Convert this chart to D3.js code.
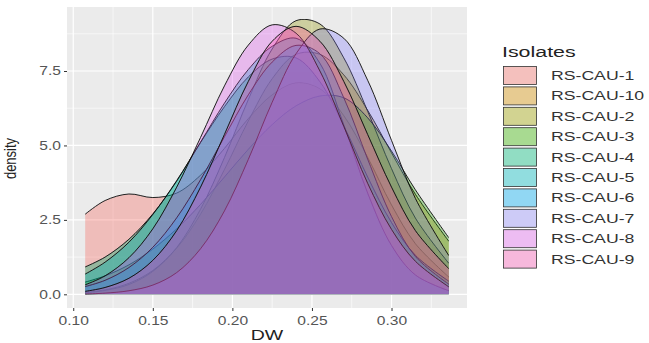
<!DOCTYPE html>
<html>
<head>
<meta charset="utf-8">
<script src="https://cdn.jsdelivr.net/npm/d3@7"></script>
<style>
  html, body { margin: 0; padding: 0; background: #ffffff; }
  svg { display: block; }
  text { font-family: "Liberation Sans", Arial, sans-serif; }
</style>
</head>
<body>
<svg id="chart" width="649" height="343"></svg>
<script>
// ---------- data ----------
const isolates = ["RS-CAU-1", "RS-CAU-10", "RS-CAU-2", "RS-CAU-3", "RS-CAU-4",
                  "RS-CAU-5", "RS-CAU-6", "RS-CAU-7", "RS-CAU-8", "RS-CAU-9"];
const colors = ["#F8766D", "#D89000", "#A3A500", "#39B600", "#00BF7D",
                "#00BFC4", "#00B0F6", "#9590FF", "#E76BF3", "#FF62BC"];
const dwGrid = [0.1075, 0.12, 0.135, 0.15, 0.165, 0.18, 0.195, 0.21, 0.225, 0.24,
                0.255, 0.27, 0.285, 0.30, 0.315, 0.336];
const densRS1  = [2.69, 3.15, 3.37, 3.25, 3.40, 4.00, 4.90, 5.90, 6.70, 7.10, 6.90, 6.00, 4.60, 3.00, 1.70, 0.58];
const densRS10 = [0.07, 0.15, 0.37, 0.80, 1.55, 2.69, 4.19, 5.82, 7.24, 8.06, 8.06, 7.37, 6.18, 4.75, 3.36, 1.78];
const densRS2  = [0.05, 0.13, 0.33, 0.77, 1.57, 2.86, 4.59, 6.54, 8.24, 9.19, 9.08, 7.94, 6.15, 4.22, 2.56, 1.04];
const densRS3  = [0.41, 0.62, 0.99, 1.52, 2.20, 3.02, 3.94, 4.87, 5.70, 6.33, 6.66, 6.60, 5.93, 4.81, 3.51, 1.90];
const densRS4  = [0.92, 1.25, 1.85, 2.70, 3.80, 5.10, 6.30, 7.30, 7.90, 7.94, 7.14, 5.66, 3.94, 2.41, 1.31, 0.44];
const densRS5  = [0.68, 1.08, 1.75, 2.68, 3.82, 5.11, 6.42, 7.55, 8.33, 8.60, 7.76, 5.69, 3.40, 1.64, 0.65, 0.12];
const densRS6  = [0.26, 0.47, 0.90, 1.58, 2.57, 3.85, 5.29, 6.70, 7.80, 8.36, 8.08, 6.60, 4.54, 2.61, 1.27, 0.34];
const densRS7  = [0.01, 0.04, 0.12, 0.31, 0.73, 1.53, 2.80, 4.53, 6.45, 8.08, 8.91, 8.60, 7.19, 5.17, 3.22, 1.30];
const densRS8  = [0.32, 0.62, 1.23, 2.20, 3.60, 5.27, 7.00, 8.37, 9.05, 8.77, 7.50, 5.64, 3.73, 2.18, 1.11, 0.25];
const densRS9  = [0.10, 0.23, 0.54, 1.14, 2.14, 3.60, 5.37, 7.15, 8.50, 9.00, 8.50, 7.15, 5.37, 3.60, 2.14, 0.86];
const densities = [densRS1, densRS10, densRS2, densRS3, densRS4, densRS5, densRS6, densRS7, densRS8, densRS9];
const xTicks = [0.10, 0.15, 0.20, 0.25, 0.30];
const xMinor = [0.125, 0.175, 0.225, 0.275, 0.325];
const yTicks = [0.0, 2.5, 5.0, 7.5];
const yMinor = [1.25, 3.75, 6.25, 8.75];
const xTitle = "DW";
const yTitle = "density";
const legendTitle = "Isolates";

// ---------- layout ----------
const SX = 1.3; // horizontal stretch of the text in the picture
const SXL = 1.38; // stretch of the legend text
const FILL_ALPHA = 0.32;
const panel = { left: 67, right: 467, top: 7, bottom: 308 };
const svg = d3.select("#chart");

// tone filter to match the darker mid-tones of the picture
const defs = svg.append("defs");
const f = defs.append("filter").attr("id", "tone").attr("color-interpolation-filters", "sRGB")
  .attr("x", 0).attr("y", 0).attr("width", 1).attr("height", 1);
const ct = f.append("feComponentTransfer");
["feFuncR", "feFuncG", "feFuncB"].forEach(n =>
  ct.append(n).attr("type", "gamma").attr("amplitude", 1).attr("exponent", 1.3).attr("offset", 0));

const xExt = d3.extent(dwGrid);
const xr = xExt[1] - xExt[0];
const x = d3.scaleLinear().domain([xExt[0] - 0.05 * xr, xExt[1] + 0.05 * xr])
  .range([panel.left, panel.right]);
const yMax = d3.max(densities, s => d3.max(s));
const y = d3.scaleLinear().domain([-0.05 * yMax, 1.05 * yMax])
  .range([panel.bottom, panel.top]);

// panel background
svg.append("rect").attr("x", panel.left).attr("y", panel.top)
  .attr("width", panel.right - panel.left).attr("height", panel.bottom - panel.top)
  .attr("fill", "#EBEBEB");

const grid = svg.append("g");
grid.selectAll(".xmin").data(xMinor).join("line")
  .attr("x1", d => x(d)).attr("x2", d => x(d)).attr("y1", panel.top).attr("y2", panel.bottom)
  .attr("stroke", "#fff").attr("stroke-width", 0.6);
grid.selectAll(".ymin").data(yMinor).join("line")
  .attr("y1", d => y(d)).attr("y2", d => y(d)).attr("x1", panel.left).attr("x2", panel.right)
  .attr("stroke", "#fff").attr("stroke-width", 0.6);
grid.selectAll(".xmaj").data(xTicks).join("line")
  .attr("x1", d => x(d)).attr("x2", d => x(d)).attr("y1", panel.top).attr("y2", panel.bottom)
  .attr("stroke", "#fff").attr("stroke-width", 1.2);
grid.selectAll(".ymaj").data(yTicks).join("line")
  .attr("y1", d => y(d)).attr("y2", d => y(d)).attr("x1", panel.left).attr("x2", panel.right)
  .attr("stroke", "#fff").attr("stroke-width", 1.2);

// densities
const curve = d3.curveCatmullRom.alpha(0.5);
const area = d3.area().x(d => x(d[0])).y0(y(0)).y1(d => y(d[1])).curve(curve);
const line = d3.line().x(d => x(d[0])).y(d => y(d[1])).curve(curve);
const series = isolates.map((name, i) => ({
  name, color: colors[i], pts: dwGrid.map((g, j) => [g, densities[i][j]])
}));
const gS = svg.append("g").attr("filter", "url(#tone)");
series.forEach(s => {
  gS.append("path").attr("d", area(s.pts)).attr("fill", s.color).attr("fill-opacity", FILL_ALPHA);
  gS.append("path").attr("d", line(s.pts)).attr("fill", "none")
    .attr("stroke", "#1a1a1a").attr("stroke-width", 0.9);
});

// axes
const xAxis = svg.append("g").attr("transform", `translate(0,${panel.bottom})`)
  .call(d3.axisBottom(x).tickValues(xTicks).tickFormat(d3.format(".2f")).tickSize(3).tickPadding(4));
const yAxis = svg.append("g").attr("transform", `translate(${panel.left},0)`)
  .call(d3.axisLeft(y).tickValues(yTicks).tickFormat(d3.format(".1f")).tickSize(3).tickPadding(3));
[xAxis, yAxis].forEach(a => {
  a.select(".domain").remove();
  a.selectAll(".tick line").attr("stroke", "#333333").attr("stroke-width", 1);
  a.selectAll(".tick text").attr("fill", "#555555").attr("font-size", 12)
    .attr("font-family", "Liberation Sans, Arial, sans-serif");
});
xAxis.selectAll(".tick text").attr("y", 8).attr("dy", "0.71em")
  .attr("transform", `scale(${SX},1)`);
yAxis.selectAll(".tick text").attr("x", -6 / SX)
  .attr("transform", `scale(${SX},1)`);

// titles
function stretchedText(px, py, str, size, anchor, fill, rot, sx) {
  const k = sx || SX;
  const g = svg.append("g").attr("transform",
    rot ? `translate(${px},${py}) rotate(-90) scale(1,${k})` : `translate(${px},${py}) scale(${k},1)`);
  return g.append("text").text(str).attr("font-size", size).attr("text-anchor", anchor).attr("fill", fill);
}
stretchedText((panel.left + panel.right) / 2, 340, xTitle, 15, "middle", "#222");
stretchedText(16, (panel.top + panel.bottom) / 2 + 1, yTitle, 13, "middle", "#222", true);

// legend
const lg = { x: 503, y: 66, w: 34, h: 19, step: 20.4 };
stretchedText(lg.x - 1, 57, legendTitle, 15.5, "start", "#222", false, SXL);
series.forEach((s, i) => {
  const yy = lg.y + i * lg.step;
  svg.append("rect").attr("x", lg.x).attr("y", yy).attr("width", lg.w).attr("height", lg.h)
    .attr("fill", "#F2F2F2");
  svg.append("rect").attr("x", lg.x + 0.5).attr("y", yy + 0.5).attr("width", lg.w - 1).attr("height", lg.h - 1)
    .attr("fill", s.color).attr("fill-opacity", 0.4).attr("stroke", "#333").attr("stroke-width", 0.8);
  stretchedText(lg.x + 48, yy + lg.h / 2 + 4.5, s.name, 12.8, "start", "#333", false, SXL);
});
</script>
</body>
</html>
